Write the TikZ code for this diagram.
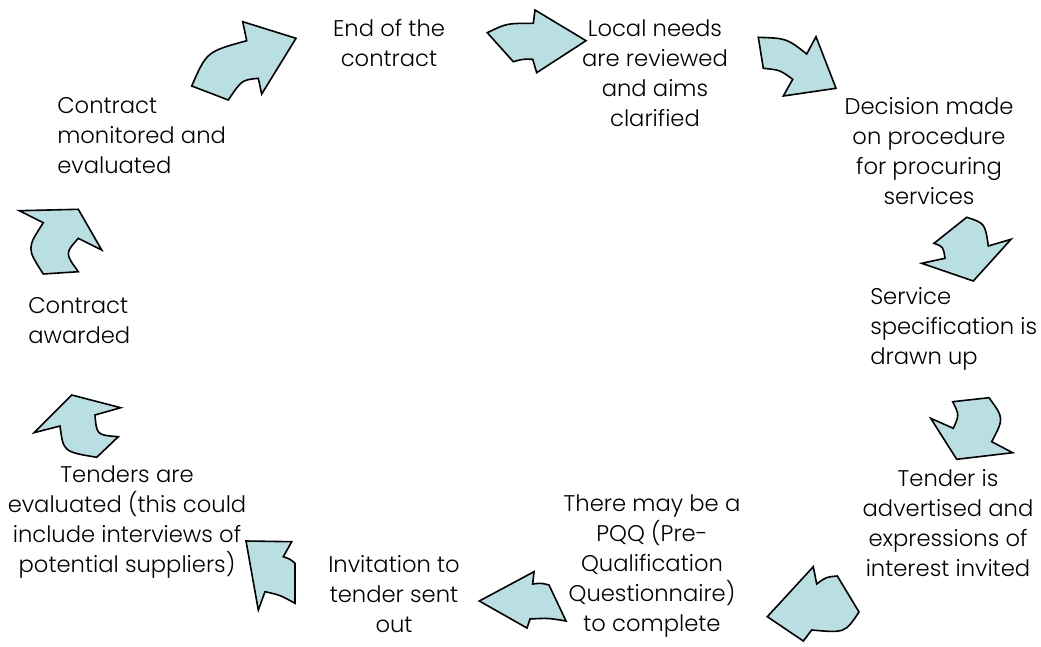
\documentclass[tikz,border=0pt]{standalone}
\usepackage{fontspec}
\setmainfont{Poppins Light}
\definecolor{arrowblue}{RGB}{185,223,227}

\begin{document}
\begin{tikzpicture}[x=0.75pt,y=-0.75pt,
  stage/.style={align=center,inner sep=0pt,font=\fontsize{17}{22.5}\selectfont},
  cyclearrow/.style={fill=arrowblue,draw=black,line width=1.2pt,line join=miter}]
  \useasboundingbox (0,0) rectangle (1041,646); % page
  % etapes du cycle
  \node[stage] (end) at (389,43) {End of the\\contract};
  \node[stage] (local) at (655,73) {Local needs\\are reviewed\\and aims\\clarified};
  \node[stage] (decision) at (929,151) {Decision made\\on procedure\\for procuring\\services};
  \node[stage,anchor=west,align=left] (service) at (870,329) {Service\\specification is\\drawn up};
  \node[stage] (advert) at (948,523) {Tender is\\advertised and\\expressions of\\interest invited};
  \node[stage] (pqq) at (652,566) {There may be a\\PQQ (Pre-\\Qualification\\Questionnaire)\\to complete};
  \node[stage] (invite) at (394,594) {Invitation to\\tender sent\\out};
  \node[stage] (evaluate) at (127,522) {Tenders are\\evaluated (this could\\include interviews of\\potential suppliers)};
  \node[stage,anchor=west,align=left] (award) at (28,321) {Contract\\awarded};
  \node[stage,anchor=west,align=left] (monitor) at (57,136) {Contract\\monitored and\\evaluated};

  % fleches courbes
  \draw[cyclearrow] (191.7,86) .. controls (206.7,51.7) .. (246.7,40.7) -- (242.7,21.7)
  -- (296,38.3) -- (261.7,94) -- (258.3,78.3) .. controls (241.7,80) .. (228.3,100) -- cycle; % monitor -> end
  \draw[cyclearrow] (487.3,32.7) .. controls (506.7,23.3) .. (533.3,23.3) -- (535,10)
  -- (586,40.7) -- (536.7,72.7) -- (532.7,59.3) .. controls (523,59) .. (513.3,61.7) -- cycle; % end -> local
  \draw[cyclearrow] (758.3,37.3) .. controls (786.7,38.3) .. (806.7,54) -- (816,36.7)
  -- (836,88.3) -- (783.3,96) -- (792.7,79.3) .. controls (780,70) .. (763.3,68.3) -- cycle; % local -> decision
  \draw[cyclearrow] (966.7,217.3) .. controls (985,223.3) .. (988.3,246) -- (1011,239.3)
  -- (973.3,281) -- (921.7,263.3) -- (945,258.3) .. controls (943.3,246.7) .. (934,243.3) -- cycle; % decision -> service
  \draw[cyclearrow] (952.7,401.7) -- (989,397.7) .. controls (1004,418.3) .. (991.7,441.7)
  -- (1012.7,452.7) -- (956.7,459.3) -- (930.7,418.3) -- (953.3,428.3)
  .. controls (959.3,415) .. (952.7,401.7) -- cycle; % service -> advert
  \draw[cyclearrow] (837.3,576) -- (859,612) .. controls (845,633) .. (811.7,630) -- (803.3,641)
  -- (767.3,616.7) -- (813.3,566.7) -- (816.7,584) .. controls (826,577) .. (837.3,576) -- cycle; % advert -> pqq
  \draw[cyclearrow] (549,585) -- (566,621) .. controls (548,618) .. (530,619) -- (527,628)
  -- (479.3,601) -- (534,571.7) -- (532.7,584) .. controls (541,583) .. (549,585) -- cycle; % pqq -> invite
  \draw[cyclearrow] (295,563.3) -- (295,603.3) .. controls (280,595) .. (265,591.7) -- (258.3,610)
  -- (246,541) -- (291.7,541.7) -- (283.3,556.7) .. controls (290,559) .. (295,563.3) -- cycle; % invite -> evaluate
  \draw[cyclearrow] (71.7,395) -- (120.7,407.7) -- (95,415) .. controls (96.7,435) .. (118.3,436.7)
  -- (96.7,457.3) .. controls (63.3,451.7) .. (60,426) -- (34,432.7) -- cycle; % evaluate -> award
  \draw[cyclearrow] (19.3,210.7) -- (78.3,209.3) -- (101.7,250) -- (78.3,238.3)
  .. controls (65,253.3) .. (78.3,271.7) -- (43.3,274) .. controls (26.7,248.3) .. (43.3,222.7) -- cycle; % award -> monitor
\end{tikzpicture}
\end{document}
